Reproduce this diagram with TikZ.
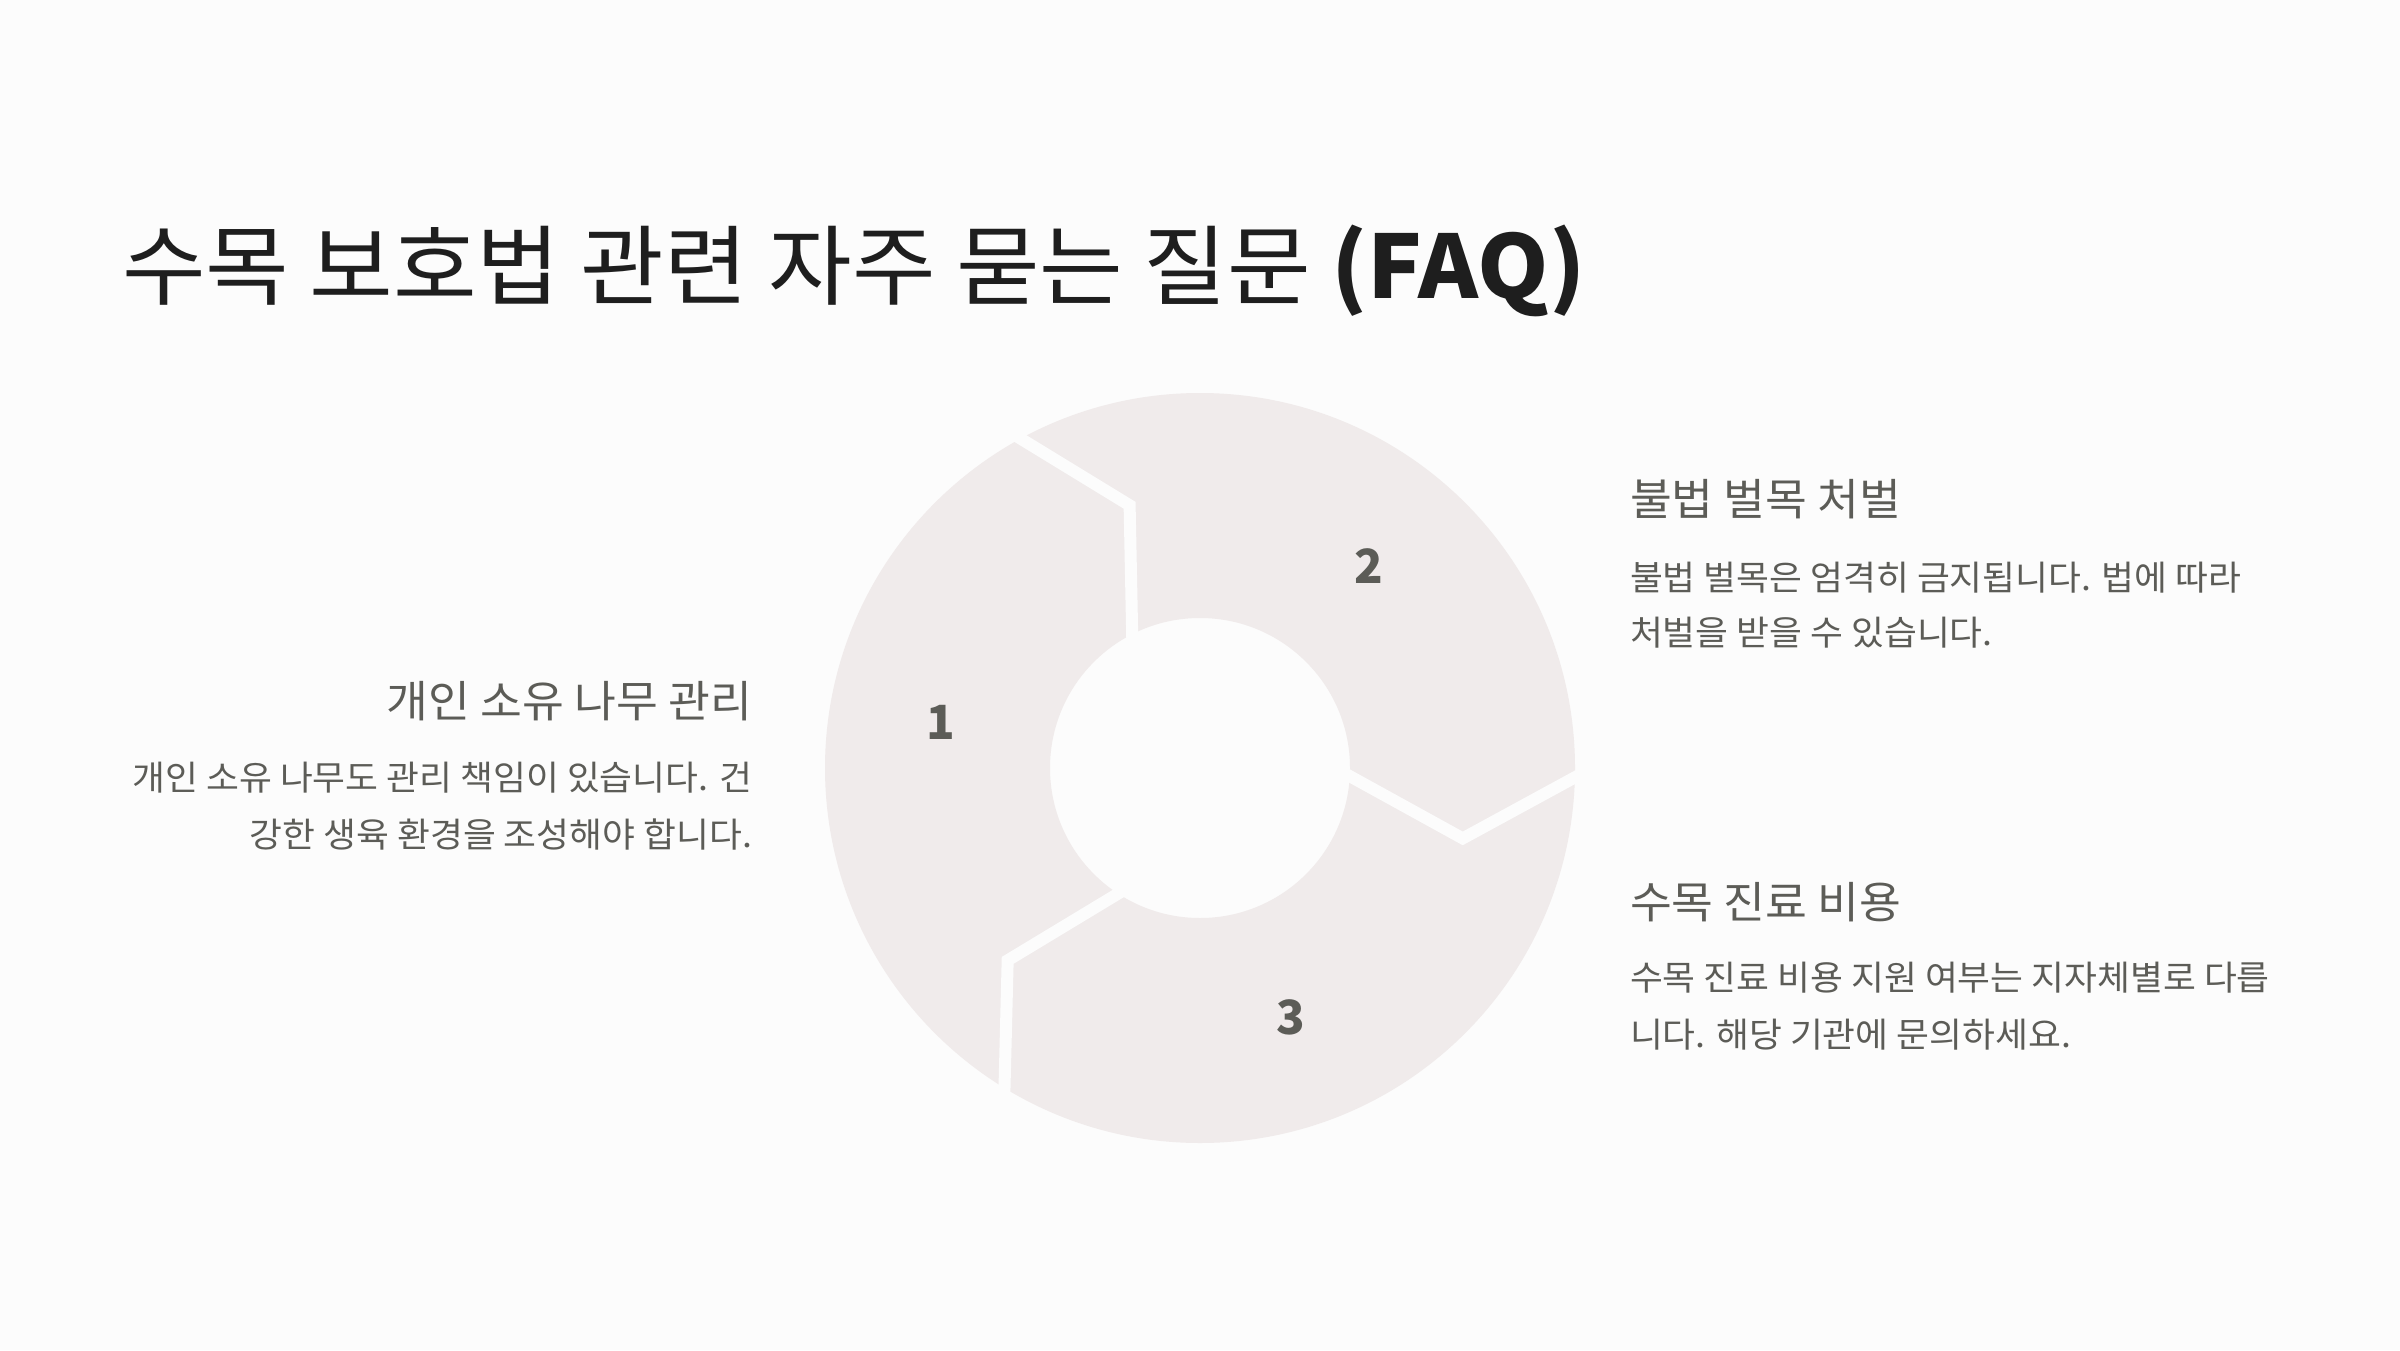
\documentclass[tikz,border=0pt]{standalone}
\usepackage{fontspec}
\usetikzlibrary{calc}
\newfontfamily\cjk[FakeStretch=1.04]{Noto Sans CJK KR}
\newfontfamily\cjknum{Noto Sans CJK KR}
\definecolor{bgc}{HTML}{FCFCFC}
\definecolor{ringc}{HTML}{F0EBEB}
\definecolor{titlec}{HTML}{1E1E1E}
\definecolor{greyc}{HTML}{5C5C57}
\tikzset{
  txt/.style={inner sep=0pt, outer sep=0pt, text=greyc},
  titletxt/.style={txt, text=titlec, font=\cjk\fontsize{24.86pt}{29pt}\selectfont},
  headtxt/.style={txt, font=\cjk\fontsize{12.43pt}{15pt}\selectfont},
  bodytxt/.style={txt, font=\cjk\fontsize{9.77pt}{12pt}\selectfont},
  numtxt/.style={txt, font=\cjknum\bfseries\fontsize{13.4pt}{16pt}\selectfont},
  gapline/.style={draw=bgc, line width=3.41pt, line join=miter, line cap=butt}
}
\begin{document}
\begin{tikzpicture}[x=0.01cm,y=0.01cm]
\fill[bgc] (0,0) rectangle (2400,1350);
\useasboundingbox (0,0) rectangle (2400,1350);
% ring
\coordinate (c) at (1200,582);
\fill[ringc, even odd rule] (c) circle[radius=375] (c) circle[radius=150];
% chevron gaps
\foreach \t in {120,0,240}{
  \draw[gapline] ($(c)+(\t:392)$) -- ($(c)+(\t-15:272)$) -- ($(c)+(\t:135)$);
}
% numbers
\node[numtxt] (n1) at ($(c)+(170:263)$) {1};
\node[numtxt] (n2) at ($(c)+(50:263)$) {2};
\node[numtxt] (n3) at ($(c)+(290:265)$) {3};
% title
\node[titletxt, anchor=base west] (title) at (122,1052) {수목 보호법 관련 자주 묻는 질문 {\bfseries (FAQ)}};
% right column
\node[headtxt, anchor=base west] (h2) at (1630,835) {불법 벌목 처벌};
\node[bodytxt, anchor=base west] (b2a) at (1630,760) {불법 벌목은 엄격히 금지됩니다. 법에 따라};
\node[bodytxt, anchor=base west] (b2b) at (1630,705) {처벌을 받을 수 있습니다.};
\node[headtxt, anchor=base west] (h3) at (1630,432) {수목 진료 비용};
\node[bodytxt, anchor=base west] (b3a) at (1630,360) {수목 진료 비용 지원 여부는 지자체별로 다릅};
\node[bodytxt, anchor=base west] (b3b) at (1630,303) {니다. 해당 기관에 문의하세요.};
% left column
\node[headtxt, anchor=base east] (h1) at (752,633) {개인 소유 나무 관리};
\node[bodytxt, anchor=base east] (b1a) at (752,560) {개인 소유 나무도 관리 책임이 있습니다. 건};
\node[bodytxt, anchor=base east] (b1b) at (752,503) {강한 생육 환경을 조성해야 합니다.};
\end{tikzpicture}
\end{document}
